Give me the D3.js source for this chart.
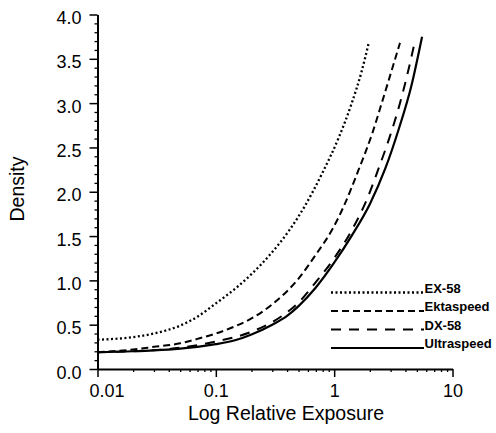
<!DOCTYPE html>
<html>
<head>
<meta charset="utf-8">
<script src="https://cdn.jsdelivr.net/npm/d3@7"></script>
<style>
  body { margin: 0; background: #fff; }
  svg { display: block; }
  .axis path, .axis line { stroke: #000; }
  .axis text { font-family: "Liberation Sans", Arial, sans-serif; font-size: 18px; fill: #000; }
  .title { font-family: "Liberation Sans", Arial, sans-serif; font-size: 19.5px; fill: #000; }
  .legend text { font-family: "Liberation Sans", Arial, sans-serif; font-size: 13px; font-weight: bold; fill: #000; }
</style>
</head>
<body>
<div id="chart"></div>
<script>
// film names (legend order, top to bottom)
var films = ["EX-58", "Ektaspeed", "DX-58", "Ultraspeed"];

// relative exposure / density
var ex58Exposure = [0.01, 0.02, 0.03, 0.05, 0.07, 0.1, 0.15, 0.2, 0.3, 0.42, 0.56, 0.8, 1.1, 1.4, 1.7, 1.96];
var ex58Density  = [0.33, 0.36, 0.40, 0.49, 0.59, 0.74, 0.92, 1.07, 1.32, 1.57, 1.83, 2.22, 2.62, 2.99, 3.35, 3.68];

var ektaExposure = [0.01, 0.02, 0.03, 0.05, 0.07, 0.1, 0.15, 0.2, 0.3, 0.5, 0.7, 0.95, 1.2, 1.6, 2.1, 2.55, 3.0, 3.6];
var ektaDensity  = [0.19, 0.22, 0.25, 0.29, 0.34, 0.40, 0.49, 0.57, 0.73, 1.02, 1.29, 1.56, 1.83, 2.24, 2.66, 3.02, 3.33, 3.68];

var dx58Exposure = [0.01, 0.02, 0.05, 0.1, 0.2, 0.3, 0.4, 0.5, 0.7, 1.0, 1.4, 1.9, 2.4, 3.0, 3.6, 4.2, 4.85];
var dx58Density  = [0.19, 0.20, 0.24, 0.31, 0.42, 0.53, 0.64, 0.75, 0.98, 1.25, 1.56, 1.92, 2.28, 2.65, 3.00, 3.35, 3.72];

var ultraExposure = [0.01, 0.02, 0.03, 0.05, 0.07, 0.1, 0.15, 0.2, 0.3, 0.4, 0.5, 0.7, 1.0, 1.4, 2.0, 2.7, 3.5, 4.5, 5.53];
var ultraDensity  = [0.19, 0.20, 0.21, 0.23, 0.25, 0.28, 0.33, 0.39, 0.50, 0.60, 0.71, 0.92, 1.20, 1.50, 1.86, 2.26, 2.70, 3.20, 3.75];

// tick values
var xTicks = [0.01, 0.1, 1, 10];
var yTicks = [0, 0.5, 1, 1.5, 2, 2.5, 3, 3.5, 4];

var svgWidth = 496;
var svgHeight = 433;

var margin = { top: 14.5, right: 43.5, bottom: 64, left: 97.5 };
var width = svgWidth - margin.left - margin.right;
var height = svgHeight - margin.top - margin.bottom;

var svg = d3.select("#chart")
  .append("svg")
  .attr("width", svgWidth)
  .attr("height", svgHeight);

var chartGroup = svg.append("g")
  .attr("transform", `translate(${margin.left}, ${margin.top})`);

// scales
var xScale = d3.scaleLog().domain([0.01, 10]).range([0, width]);
var yScale = d3.scaleLinear().domain([0, 4]).range([height, 0]);

// minor ticks: 2..9 in every decade, every 0.1 density
var xMinor = [];
[0.01, 0.1, 1].forEach(function(dec) {
  for (var k = 2; k <= 9; k++) xMinor.push(dec * k);
});
var yMinor = d3.range(0, 41).map(d => d / 10).filter(d => Math.round(d * 10) % 5 !== 0);

// x axis
chartGroup.append("g")
  .attr("class", "axis")
  .attr("transform", `translate(0, ${height})`)
  .call(d3.axisBottom(xScale).tickValues(xMinor).tickSize(3).tickSizeOuter(0).tickFormat(""))
  .call(g => g.select(".domain").remove())
  .selectAll("line").attr("stroke-width", 1.3);

var xAxis = chartGroup.append("g")
  .attr("class", "axis")
  .attr("transform", `translate(0, ${height})`)
  .call(d3.axisBottom(xScale).tickValues(xTicks).tickSize(8).tickSizeOuter(0).tickPadding(7)
    .tickFormat(d => String(d)));
xAxis.select(".domain").attr("stroke-width", 2);
xAxis.selectAll("line").attr("stroke-width", 1.5);
// first label sits right of its tick
xAxis.selectAll("text").filter(d => d === 0.01).attr("dx", 9);

// y axis
chartGroup.append("g")
  .attr("class", "axis")
  .call(d3.axisLeft(yScale).tickValues(yMinor).tickSize(3).tickSizeOuter(0).tickFormat(""))
  .call(g => g.select(".domain").remove())
  .selectAll("line").attr("stroke-width", 1.3);

var yAxis = chartGroup.append("g")
  .attr("class", "axis")
  .call(d3.axisLeft(yScale).tickValues(yTicks).tickSize(8).tickSizeOuter(0).tickPadding(8)
    .tickFormat(d3.format(".1f")));
yAxis.select(".domain").attr("stroke-width", 2);
yAxis.selectAll("line").attr("stroke-width", 1.5);
yAxis.selectAll("text").attr("dy", "0.5em");

// axis titles
svg.append("text")
  .attr("class", "title")
  .attr("x", 286)
  .attr("y", 420)
  .attr("text-anchor", "middle")
  .text("Log Relative Exposure");

svg.append("text")
  .attr("class", "title")
  .attr("transform", "translate(24, 189) rotate(-90)")
  .attr("text-anchor", "middle")
  .text("Density");

// curves
var series = [
  { name: films[0], exposure: ex58Exposure, density: ex58Density, dash: "2,2.5", width: 2.3 },
  { name: films[1], exposure: ektaExposure, density: ektaDensity, dash: "7,4", width: 2 },
  { name: films[2], exposure: dx58Exposure, density: dx58Density, dash: "10,8", width: 2 },
  { name: films[3], exposure: ultraExposure, density: ultraDensity, dash: null, width: 2.2 }
];

var line = d3.line()
  .x(d => xScale(d[0]))
  .y(d => yScale(d[1]))
  .curve(d3.curveMonotoneX);

series.forEach(function(s) {
  var pts = s.exposure.map((e, i) => [e, s.density[i]]);
  chartGroup.append("path")
    .datum(pts)
    .attr("fill", "none")
    .attr("stroke", "#000")
    .attr("stroke-width", s.width)
    .attr("stroke-dasharray", s.dash)
    .attr("d", line);
});

// legend
var legend = svg.append("g").attr("class", "legend");
var legendY = [292.5, 311, 329.5, 348];

series.forEach(function(s, i) {
  legend.append("line")
    .attr("x1", 331)
    .attr("x2", 424)
    .attr("y1", legendY[i])
    .attr("y2", legendY[i])
    .attr("stroke", "#000")
    .attr("stroke-width", s.width)
    .attr("stroke-dasharray", s.dash);
  legend.append("text")
    .attr("x", 424.5)
    .attr("y", legendY[i])
    .text(s.name);
});
</script>
</body>
</html>
